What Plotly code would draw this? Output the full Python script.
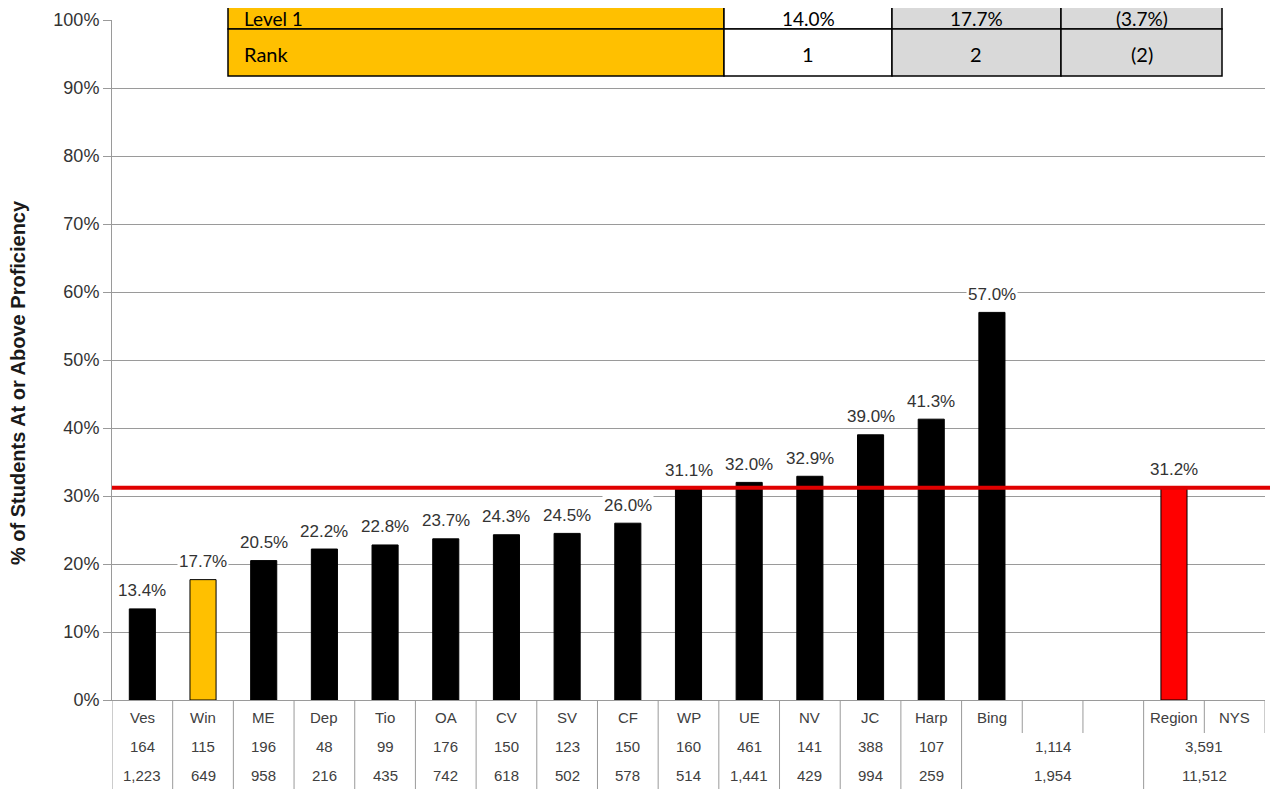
import plotly.graph_objects as go

# ---------------- data ----------------
categories = ["Ves", "Win", "ME", "Dep", "Tio", "OA", "CV", "SV", "CF", "WP",
              "UE", "NV", "JC", "Harp", "Bing", "", "", "Region", "NYS"]
pct_values = [13.4, 17.7, 20.5, 22.2, 22.8, 23.7, 24.3, 24.5, 26.0, 31.1,
              32.0, 32.9, 39.0, 41.3, 57.0, None, None, 31.2, None]
bar_kind = ["other", "focus"] + ["other"] * 13 + ["none", "none", "region", "none"]

row2_labels = ["164", "115", "196", "48", "99", "176", "150", "123", "150", "160",
               "461", "141", "388", "107", "1,114", "3,591"]
row3_labels = ["1,223", "649", "958", "216", "435", "742", "618", "502", "578", "514",
               "1,441", "429", "994", "259", "1,954", "11,512"]
row_spans = [(i, i) for i in range(14)] + [(14, 16), (17, 18)]

top_rows = ["Level 1", "Rank"]
top_col_a = ["14.0%", "1"]
top_col_b = ["17.7%", "2"]
top_col_c = ["(3.7%)", "(2)"]

y_ticks = list(range(0, 101, 10))
y_tick_text = [f"{v}%" for v in y_ticks]

region_value = pct_values[categories.index("Region")]

# ---------------- styling ----------------
OFF = 8  # page offset of the plot div
W, H = 1278 - OFF, 789 - OFF
PL, PR, PT, PB = 112, 1265, 20, 700   # plot area in page pixels
pw, ph = PR - PL, PB - PT
L, T = PL - OFF, PT - OFF
R = W - L - pw
B = H - T - ph
FONT = "Liberation Sans, Arial, sans-serif"
TFONT = "Lato, Carlito, Calibri, sans-serif"
color_map = {"other": "#000000", "focus": "#FFC000", "region": "#FF0000", "none": "rgba(0,0,0,0)"}

def py(pix):  # page pixel y -> paper y
    return (PB - pix) / ph

def px(pix):  # page pixel x -> paper x
    return (pix - PL) / pw

xs = list(range(len(categories)))
fig = go.Figure()
fig.add_trace(go.Bar(
    x=xs, y=pct_values, width=0.43,
    marker=dict(color=[color_map[k] for k in bar_kind],
                line=dict(color="#000000", width=1)),
    hoverinfo="skip", showlegend=False,
))

annotations = []
shapes = []

# data labels
for x, v in zip(xs, pct_values):
    if v is None:
        continue
    annotations.append(dict(x=x, y=v, xref="x", yref="y", text=f"{v:.1f}%",
                            showarrow=False, yshift=18, yanchor="middle",
                            bgcolor="white", borderpad=1,
                            font=dict(family=FONT, size=17, color="#333333")))

# red reference line (region value)
shapes.append(dict(type="line", xref="paper", yref="y", x0=0, x1=px(1276),
                   y0=region_value, y1=region_value,
                   line=dict(color="#E00000", width=4), layer="above"))

# bottom table: category names
for x, c in zip(xs, categories):
    if c:
        annotations.append(dict(x=x, y=py(718), xref="x", yref="paper", text=c,
                                showarrow=False, yanchor="middle",
                                font=dict(family=FONT, size=15, color="#404040")))
for (s, e), a, b in zip(row_spans, row2_labels, row3_labels):
    xc = (s + e) / 2
    annotations.append(dict(x=xc, y=py(746), xref="x", yref="paper", text=a,
                            showarrow=False, yanchor="middle",
                            font=dict(family=FONT, size=15, color="#404040")))
    annotations.append(dict(x=xc, y=py(775), xref="x", yref="paper", text=b,
                            showarrow=False, yanchor="middle",
                            font=dict(family=FONT, size=15, color="#404040")))

# bottom table vertical lines
span_starts = {s for s, e in row_spans}
for i in range(len(categories)):
    xb = i - 0.5
    y1 = py(795) if i in span_starts else py(733)
    shapes.append(dict(type="line", xref="x", yref="paper", x0=xb, x1=xb,
                       y0=0, y1=y1, line=dict(color="#9a9a9a", width=1)))
shapes.append(dict(type="line", xref="x", yref="paper", x0=len(categories) - 0.5,
                   x1=len(categories) - 0.5, y0=0, y1=py(733),
                   line=dict(color="#9a9a9a", width=1)))

# top table
col_edges = [228, 724, 892, 1061, 1222]
row_edges = [-18, 29, 76]
text_centers = [18, 54]
text_sizes = [19, 20]
fills = ["#FFC000", "#FFFFFF", "#D9D9D9", "#D9D9D9"]
cols_text = [top_rows, top_col_a, top_col_b, top_col_c]
for ri in range(len(top_rows)):
    for ci in range(4):
        shapes.append(dict(type="rect", xref="paper", yref="paper",
                           x0=px(col_edges[ci]), x1=px(col_edges[ci + 1]),
                           y0=py(row_edges[ri + 1]), y1=py(row_edges[ri]),
                           fillcolor=fills[ci], line=dict(color="#000000", width=1.5),
                           layer="above"))
        ymid = py(text_centers[ri])
        fnt = dict(family=TFONT, size=text_sizes[ri], color="#000000")
        if ci == 0:
            annotations.append(dict(x=px(242), y=ymid, xref="paper", yref="paper",
                                    text=cols_text[ci][ri], showarrow=False,
                                    xanchor="left", yanchor="middle", font=fnt))
        else:
            annotations.append(dict(x=px((col_edges[ci] + col_edges[ci + 1]) / 2), y=ymid,
                                    xref="paper", yref="paper",
                                    text=cols_text[ci][ri], showarrow=False,
                                    xanchor="center", yanchor="middle", font=fnt))

# y-axis title
annotations.append(dict(x=px(18), y=py(383), xref="paper", yref="paper",
                        text="<b>% of Students At or Above Proficiency</b>",
                        textangle=-90, showarrow=False, xanchor="center", yanchor="middle",
                        font=dict(family=FONT, size=20, color="#1a1a1a")))

fig.update_layout(
    width=W, height=H,
    margin=dict(l=L, r=R, t=T, b=B, pad=0, autoexpand=False),
    paper_bgcolor="white", plot_bgcolor="white",
    xaxis=dict(range=[-0.5, len(categories) - 0.5], showticklabels=False,
               showgrid=False, zeroline=False, showline=True, automargin=False,
               linecolor="#9a9a9a", linewidth=1, ticks=""),
    yaxis=dict(range=[0, 100], tickmode="array", tickvals=y_ticks, ticktext=y_tick_text,
               showgrid=True, gridcolor="#9a9a9a", gridwidth=1, automargin=False,
               zeroline=False, showline=True, linecolor="#9a9a9a", linewidth=1,
               ticks="outside", ticklen=8, tickcolor="#9a9a9a",
               tickfont=dict(family=FONT, size=18, color="#333333")),
    annotations=annotations,
    shapes=shapes,
)

fig.write_html("out.html")
